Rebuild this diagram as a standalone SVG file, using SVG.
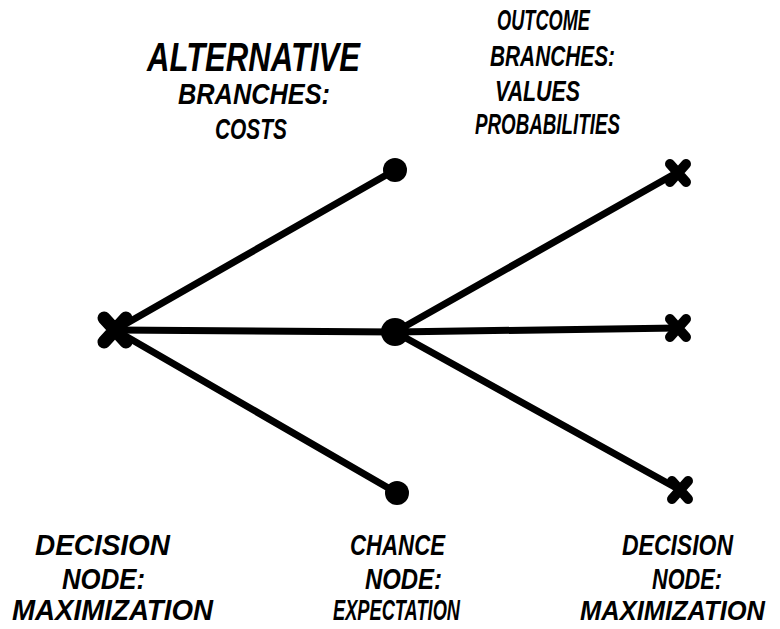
<svg xmlns="http://www.w3.org/2000/svg" width="780" height="629" viewBox="0 0 780 629">
<style>
.t{font-family:"Liberation Sans","DejaVu Sans",sans-serif;font-weight:bold;font-style:italic;fill:#000}
.b{font-size:29px}
.ln{stroke:#000;stroke-width:7;stroke-linecap:round;fill:none}
.x{stroke:#000;stroke-linecap:round;fill:none}
</style>
<rect width="780" height="629" fill="#fff"/>
<g id="connectors">
<line class="ln" x1="115" y1="330" x2="395" y2="170"/>
<line class="ln" x1="115" y1="330" x2="395" y2="332"/>
<line class="ln" x1="115" y1="330" x2="397" y2="493"/>
<line class="ln" x1="395" y1="332" x2="678" y2="172"/>
<line class="ln" x1="395" y1="332" x2="678" y2="328"/>
<line class="ln" x1="395" y1="332" x2="680" y2="490"/>
</g>
<g id="decision1"><path class="x" stroke-width="13" d="M104 318 L126 342 M126 318 L104 342"/></g>
<g id="alt-top"><circle cx="395" cy="170" r="12"/></g>
<g id="alt-bottom"><circle cx="397" cy="493" r="12"/></g>
<g id="chance"><circle cx="395" cy="332" r="14"/></g>
<g id="out1"><path class="x" stroke-width="10" d="M670 164 L686 182 M686 164 L670 182"/></g>
<g id="out2"><path class="x" stroke-width="10" d="M670 319 L686 337 M686 319 L670 337"/></g>
<g id="out3"><path class="x" stroke-width="10" d="M672 481 L688 499 M688 481 L672 499"/></g>
<g id="labels">
<text class="t" x="147" y="71" font-size="40" textLength="213" lengthAdjust="spacingAndGlyphs">ALTERNATIVE</text>
<text class="t" x="178" y="104" font-size="30" textLength="152" lengthAdjust="spacingAndGlyphs">BRANCHES:</text>
<text class="t" x="215" y="139" font-size="30" textLength="72" lengthAdjust="spacingAndGlyphs">COSTS</text>
<text class="t" x="497" y="30" font-size="30" textLength="93" lengthAdjust="spacingAndGlyphs">OUTCOME</text>
<text class="t" x="490" y="66" font-size="30" textLength="125" lengthAdjust="spacingAndGlyphs">BRANCHES:</text>
<text class="t" x="495" y="101" font-size="30" textLength="85" lengthAdjust="spacingAndGlyphs">VALUES</text>
<text class="t" x="475" y="134" font-size="30" textLength="145" lengthAdjust="spacingAndGlyphs">PROBABILITIES</text>
<text class="t b" x="35" y="555" textLength="135" lengthAdjust="spacingAndGlyphs">DECISION</text>
<text class="t b" x="62" y="589" textLength="83" lengthAdjust="spacingAndGlyphs">NODE:</text>
<text class="t b" x="12" y="620" textLength="201" lengthAdjust="spacingAndGlyphs">MAXIMIZATION</text>
<text class="t b" x="350" y="555" textLength="95" lengthAdjust="spacingAndGlyphs">CHANCE</text>
<text class="t b" x="365" y="589" textLength="77" lengthAdjust="spacingAndGlyphs">NODE:</text>
<text class="t b" x="333" y="620" textLength="127" lengthAdjust="spacingAndGlyphs">EXPECTATION</text>
<text class="t b" x="622" y="555" textLength="111" lengthAdjust="spacingAndGlyphs">DECISION</text>
<text class="t b" x="652" y="589" textLength="70" lengthAdjust="spacingAndGlyphs">NODE:</text>
<text class="t" x="765" y="620" font-size="28" text-anchor="end" textLength="185" lengthAdjust="spacingAndGlyphs">MAXIMIZATION</text>
</g>
</svg>
